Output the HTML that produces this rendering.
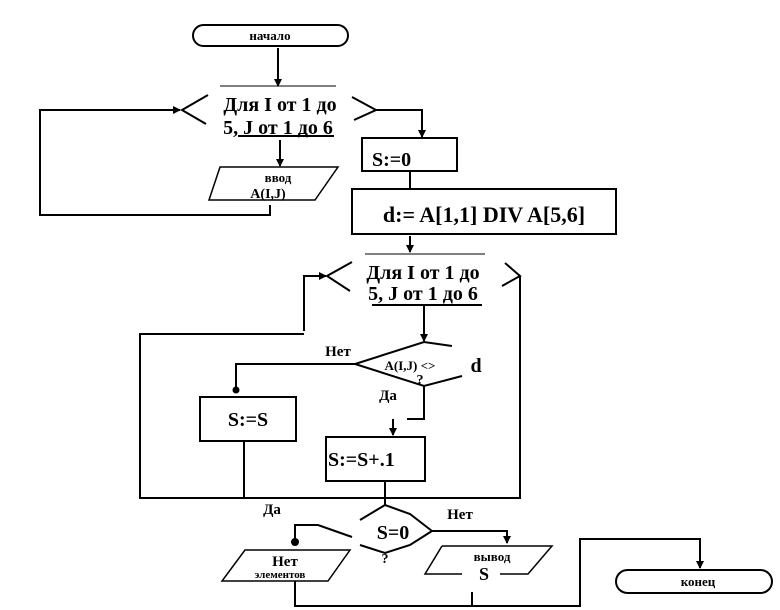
<!DOCTYPE html>
<html><head><meta charset="utf-8"><style>
html,body{margin:0;padding:0;background:#fff;}
svg{display:block;}
text{font-family:"Liberation Serif","DejaVu Serif",serif;font-weight:bold;fill:#000;}
</style></head><body>
<svg width="780" height="610" viewBox="0 0 780 610" xmlns="http://www.w3.org/2000/svg">
<defs><marker id="a" markerWidth="8" markerHeight="8" refX="7" refY="4" orient="auto" markerUnits="userSpaceOnUse"><path d="M0,0 L8,4 L0,8 z" fill="#000"/></marker></defs>
<g stroke="#000" stroke-width="2" fill="none">
<!-- start -->
<rect x="193" y="25" width="155" height="21" rx="10.5"/>
<line x1="278" y1="48" x2="278" y2="86" marker-end="url(#a)"/>
<!-- hex1 -->
<line x1="220" y1="86" x2="336" y2="86" stroke-width="1"/>
<polyline points="208,95 182,110 206,124"/>
<polyline points="352,97 376,110 354,120"/>
<line x1="238" y1="136" x2="334" y2="136"/>
<polyline points="270,205 270,215 40,215 40,110 180,110" marker-end="url(#a)"/>
<polyline points="376,110 422,110 422,137" marker-end="url(#a)"/>
<line x1="280" y1="140" x2="280" y2="166" marker-end="url(#a)"/>
<polygon points="220,167 338,167 315,200 209,200" stroke-width="1.5"/>
<!-- S:=0 -->
<rect x="362" y="138" width="95" height="33"/>
<line x1="410" y1="171" x2="410" y2="189"/>
<rect x="352" y="189" width="264" height="45"/>
<line x1="410" y1="236" x2="410" y2="252" marker-end="url(#a)"/>
<!-- hex2 -->
<line x1="365" y1="254" x2="485" y2="254" stroke-width="1"/>
<polyline points="352,262 327,276 350,291"/>
<polyline points="505,263 520,276 502,286"/>
<line x1="372" y1="305" x2="482" y2="305"/>
<polyline points="304,331 304,276 326,276" marker-end="url(#a)"/>
<polyline points="304,334 140,334 140,498 520,498 520,276"/>
<line x1="424" y1="305" x2="424" y2="341" marker-end="url(#a)"/>
<!-- diamond1 -->
<polyline points="452,346 424,342 355,364 424,386 462,376"/>
<polyline points="355,364 236,364 236,388"/>
<circle cx="236" cy="390" r="2.5" fill="#000"/>
<rect x="200" y="397" width="96" height="44"/>
<polyline points="424,386 424,419 407,419"/>
<line x1="393" y1="419" x2="393" y2="435" marker-end="url(#a)"/>
<rect x="326" y="437" width="99" height="44"/>
<line x1="244" y1="441" x2="244" y2="498"/>
<line x1="385" y1="481" x2="385" y2="505"/>
<!-- diamond2 -->
<polyline points="360,520 385,505 410,514 432,531 410,545 385,553 360,545"/>
<polyline points="352,537 318,525 295,525 295,540"/>
<circle cx="295" cy="542" r="3" fill="#000"/>
<polygon points="245,550 350,550 328,581 222,581" stroke-width="1.5"/>
<polyline points="432,531 507,531 507,543" marker-end="url(#a)"/>
<polyline points="442,546 552,546 528,574 500,574" stroke-width="1.5"/>
<polyline points="462,574 425,574 442,546" stroke-width="1.5"/>
<polyline points="295,581 295,606 580,606 580,539 700,539 700,568" marker-end="url(#a)"/>
<line x1="472" y1="592" x2="472" y2="606"/>
<rect x="616" y="570" width="156" height="23" rx="11.5"/>
</g>
<text x="270" y="40" font-size="13" text-anchor="middle" font-weight="normal">начало</text>
<text x="280" y="111" font-size="20" text-anchor="middle">Для I от 1 до</text>
<text x="278" y="134" font-size="20" text-anchor="middle">5,  J от 1  до 6</text>
<text x="278" y="182" font-size="13" text-anchor="middle">ввод</text>
<text x="268" y="198" font-size="14" text-anchor="middle">A(I,J)</text>
<text x="372" y="166" font-size="20">S:=0</text>
<text x="484" y="222" font-size="22" text-anchor="middle">d:= A[1,1] DIV  A[5,6]</text>
<text x="423" y="279" font-size="20" text-anchor="middle">Для I от 1 до</text>
<text x="423" y="300" font-size="20" text-anchor="middle">5,  J от 1  до 6</text>
<text x="338" y="356" font-size="15" text-anchor="middle">Нет</text>
<text x="410" y="370" font-size="13" text-anchor="middle" font-weight="normal">A(I,J)  &lt;&gt;</text>
<text x="476" y="372" font-size="20" text-anchor="middle">d</text>
<text x="420" y="384" font-size="14" text-anchor="middle">?</text>
<text x="388" y="400" font-size="15" text-anchor="middle">Да</text>
<text x="248" y="426" font-size="20" text-anchor="middle">S:=S</text>
<text x="328" y="466" font-size="20">S:=S+.1</text>
<text x="272" y="514" font-size="15" text-anchor="middle">Да</text>
<text x="460" y="519" font-size="15" text-anchor="middle">Нет</text>
<text x="393" y="539" font-size="20" text-anchor="middle">S=0</text>
<text x="385" y="563" font-size="14" text-anchor="middle">?</text>
<text x="285" y="566" font-size="15" text-anchor="middle">Нет</text>
<text x="280" y="578" font-size="11" text-anchor="middle">элементов</text>
<text x="492" y="561" font-size="13" text-anchor="middle">вывод</text>
<text x="484" y="580" font-size="18" text-anchor="middle">S</text>
<text x="698" y="586" font-size="13" text-anchor="middle">конец</text>
</svg>
</body></html>
